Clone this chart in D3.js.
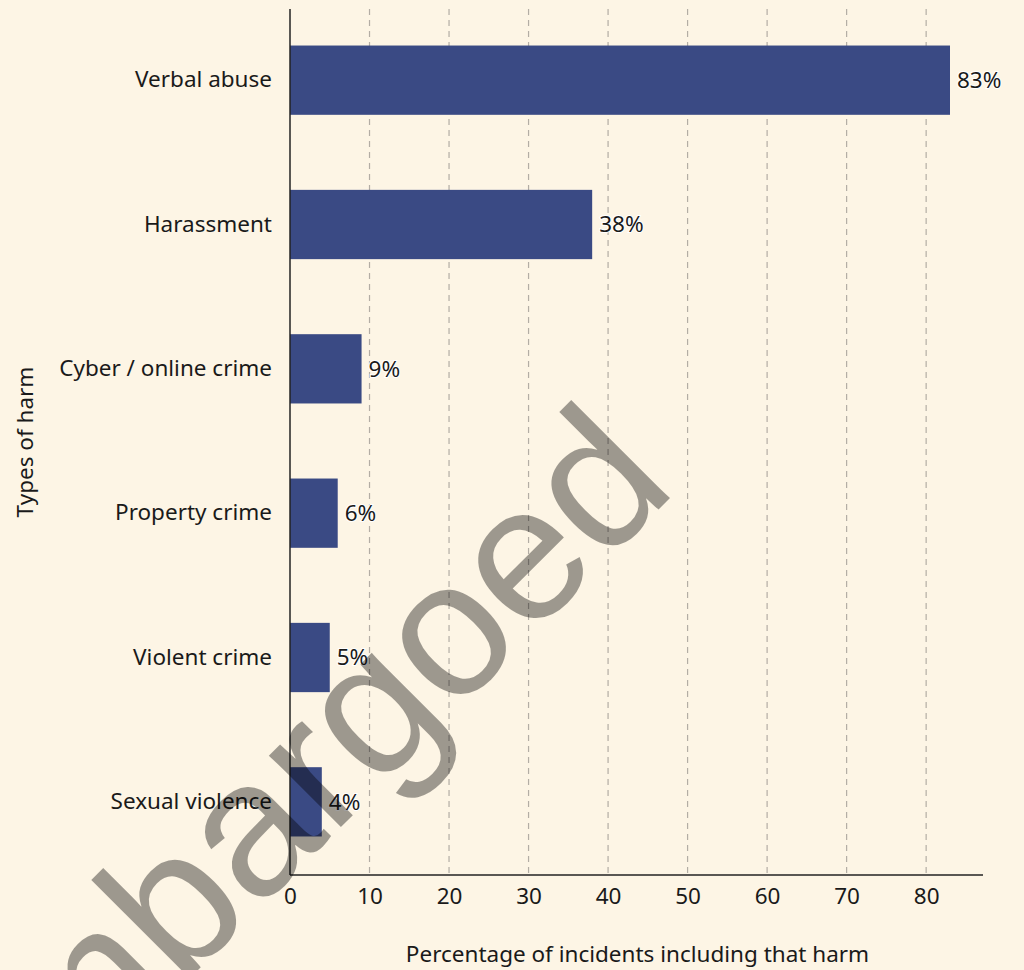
<!DOCTYPE html>
<html>
<head>
<meta charset="utf-8">
<script src="https://cdn.jsdelivr.net/npm/d3@7"></script>
<style>
  html, body { margin: 0; padding: 0; background: #fdf5e5; }
  svg { display: block; font-family: "Noto Sans", sans-serif; }
</style>
</head>
<body>
<script>
// data
const categories = ["Verbal abuse", "Harassment", "Cyber / online crime", "Property crime", "Violent crime", "Sexual violence"];
const values = [83, 38, 9, 6, 5, 4];
const xTicks = [0, 10, 20, 30, 40, 50, 60, 70, 80];

const width = 1024, height = 970;
const mLeft = 290, mRight = 983, mTop = 9, mBottom = 875;
const fs = 22.5;

const svg = d3.select("body").append("svg")
  .attr("width", width)
  .attr("height", height);

svg.append("rect").attr("width", width).attr("height", height).attr("fill", "#fdf5e5");

const x = d3.scaleLinear()
  .domain([0, d3.max(values) * 1.05])
  .range([mLeft, mRight]);

const y = d3.scaleBand()
  .domain(categories)
  .range([mTop - 1, mBottom - 1])
  .paddingInner(0.52)
  .paddingOuter(0.26);

// grid
svg.append("g").selectAll("line")
  .data(xTicks.filter(d => d > 0))
  .enter().append("line")
  .attr("x1", d => x(d)).attr("x2", d => x(d))
  .attr("y1", mTop).attr("y2", mBottom)
  .attr("stroke", "#b3ada4")
  .attr("stroke-width", 1.2)
  .attr("stroke-dasharray", "6,5");

// bars
svg.append("g").selectAll("rect")
  .data(categories)
  .enter().append("rect")
  .attr("x", x(0))
  .attr("y", d => y(d))
  .attr("width", (d, i) => x(values[i]) - x(0))
  .attr("height", y.bandwidth())
  .attr("fill", "#3a4a84");

// value labels
svg.append("g").selectAll("text")
  .data(categories)
  .enter().append("text")
  .attr("x", (d, i) => x(values[i]) + 7)
  .attr("y", d => y(d) + y.bandwidth() / 2)
  .attr("dy", "0.35em")
  .attr("font-size", fs)
  .attr("fill", "#1a1a1a")
  .attr("stroke", "#ffffff")
  .attr("stroke-width", 2)
  .attr("paint-order", "stroke")
  .text((d, i) => values[i] + "%");

// y axis
const yAxis = svg.append("g")
  .attr("transform", `translate(${mLeft},0)`)
  .call(d3.axisLeft(y).tickSize(0).tickPadding(18));
yAxis.select(".domain").remove();
yAxis.selectAll("text").attr("font-size", fs).attr("fill", "#1a1a1a").attr("font-family", "Noto Sans");

svg.append("line")
  .attr("x1", mLeft).attr("x2", mLeft)
  .attr("y1", mTop).attr("y2", mBottom)
  .attr("stroke", "#222").attr("stroke-width", 1.5);

// x axis
const xAxis = svg.append("g")
  .attr("transform", `translate(0,${mBottom})`)
  .call(d3.axisBottom(x).tickValues(xTicks).tickSize(0).tickPadding(13));
xAxis.select(".domain").remove();
xAxis.selectAll("text").attr("font-size", fs).attr("fill", "#1a1a1a").attr("font-family", "Noto Sans");

svg.append("line")
  .attr("x1", mLeft).attr("x2", mRight)
  .attr("y1", mBottom).attr("y2", mBottom)
  .attr("stroke", "#222").attr("stroke-width", 1.5);

// axis titles
svg.append("text")
  .attr("x", (404 + 871) / 2)
  .attr("y", 962)
  .attr("text-anchor", "middle")
  .attr("font-size", fs)
  .attr("fill", "#1a1a1a")
  .text("Percentage of incidents including that harm");

svg.append("text")
  .attr("transform", `translate(33,${(mTop + mBottom) / 2}) rotate(-90)`)
  .attr("text-anchor", "middle")
  .attr("font-size", fs)
  .attr("fill", "#1a1a1a")
  .text("Types of harm");

// watermark on top
svg.append("text")
  .attr("transform", "translate(-8,1176) rotate(-45)")
  .attr("font-family", "Liberation Sans, Arial, sans-serif")
  .attr("font-size", 192)
  .attr("fill", "#000")
  .attr("fill-opacity", 0.38)
  .text("embargoed");
</script>
</body>
</html>
